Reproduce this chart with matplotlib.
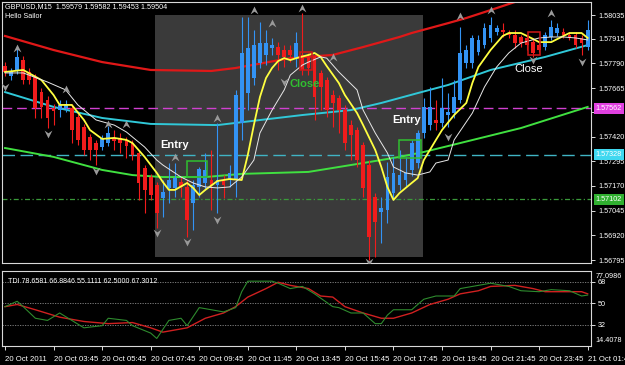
import matplotlib
matplotlib.use("Agg")
import matplotlib.pyplot as plt
import numpy as np
from matplotlib.path import Path
from matplotlib.patches import Rectangle

plt.rcParams['font.family'] = ['Liberation Sans', 'DejaVu Sans']

# GBPUSD M15 candles, 20 Oct 2011 01:45 -> 21 Oct 01:45
opens = [1.57777, 1.57726, 1.57757, 1.57807, 1.57747, 1.57721, 1.57645, 1.57605, 1.57564, 1.57554,
         1.57564, 1.57564, 1.57519, 1.57468, 1.57418, 1.57387, 1.57367, 1.57387, 1.57413, 1.57413,
         1.57403, 1.57387, 1.57337, 1.57261, 1.57215, 1.57175, 1.57109, 1.57160, 1.57160, 1.57190,
         1.57165, 1.57084, 1.57165, 1.57185, 1.57200, 1.57175, 1.57200, 1.57200, 1.57200, 1.57489,
         1.57640, 1.57716, 1.57792, 1.57833, 1.57868, 1.57873, 1.57858, 1.57858, 1.57817, 1.57833,
         1.57823, 1.57823, 1.57742, 1.57706, 1.57630, 1.57615, 1.57554, 1.57478, 1.57453, 1.57377,
         1.57276, 1.57114, 1.57038, 1.57048, 1.57134, 1.57175, 1.57200, 1.57251, 1.57286, 1.57438,
         1.57478, 1.57504, 1.57489, 1.57529, 1.57539, 1.57605, 1.57792, 1.57792, 1.57848, 1.57883,
         1.57919, 1.57949, 1.57959, 1.57944, 1.57934, 1.57924, 1.57919, 1.57898, 1.57883, 1.57873,
         1.57924, 1.57944, 1.57949, 1.57934, 1.57934, 1.57919, 1.57873]
highs = [1.57797, 1.57767, 1.57873, 1.57828, 1.57767, 1.57737, 1.57666, 1.57625, 1.57585, 1.57605,
         1.57605, 1.57585, 1.57534, 1.57484, 1.57433, 1.57403, 1.57428, 1.57473, 1.57453, 1.57438,
         1.57418, 1.57403, 1.57352, 1.57276, 1.57231, 1.57190, 1.57200, 1.57286, 1.57286, 1.57215,
         1.57200, 1.57200, 1.57266, 1.57337, 1.57352, 1.57489, 1.57225, 1.57276, 1.57656, 1.58025,
         1.58025, 1.57959, 1.57999, 1.57959, 1.57919, 1.57898, 1.57883, 1.57883, 1.57949, 1.58045,
         1.57843, 1.57833, 1.57757, 1.57721, 1.57656, 1.57630, 1.57580, 1.57504, 1.57468, 1.57392,
         1.57301, 1.57134, 1.57114, 1.57291, 1.57317, 1.57352, 1.57317, 1.57403, 1.57453, 1.57615,
         1.57671, 1.57605, 1.57716, 1.57640, 1.57706, 1.57974, 1.57883, 1.57934, 1.57934, 1.57994,
         1.58025, 1.57984, 1.57994, 1.57959, 1.57959, 1.57934, 1.57934, 1.57919, 1.57898, 1.57949,
         1.58010, 1.57994, 1.57969, 1.57949, 1.57949, 1.57934, 1.58010]
lows = [1.57726, 1.57706, 1.57737, 1.57686, 1.57686, 1.57514, 1.57514, 1.57463, 1.57478, 1.57519,
        1.57544, 1.57387, 1.57377, 1.57327, 1.57301, 1.57276, 1.57352, 1.57372, 1.57352, 1.57337,
        1.57311, 1.57301, 1.57099, 1.57033, 1.57099, 1.56957, 1.57013, 1.57084, 1.57114, 1.57114,
        1.56912, 1.56947, 1.57114, 1.57150, 1.57048, 1.57033, 1.57109, 1.57165, 1.57114, 1.57403,
        1.57554, 1.57681, 1.57767, 1.57782, 1.57833, 1.57757, 1.57772, 1.57797, 1.57772, 1.57731,
        1.57731, 1.57504, 1.57554, 1.57519, 1.57468, 1.57438, 1.57352, 1.57301, 1.57266, 1.57114,
        1.56795, 1.56811, 1.56881, 1.56983, 1.57099, 1.57150, 1.57170, 1.57220, 1.57261, 1.57413,
        1.57453, 1.57453, 1.57468, 1.57468, 1.57514, 1.57590, 1.57767, 1.57767, 1.57833, 1.57868,
        1.57898, 1.57934, 1.57924, 1.57919, 1.57868, 1.57873, 1.57858, 1.57823, 1.57848, 1.57858,
        1.57909, 1.57929, 1.57919, 1.57909, 1.57868, 1.57833, 1.57858]
closes = [1.57747, 1.57747, 1.57823, 1.57706, 1.57706, 1.57564, 1.57570, 1.57514, 1.57549, 1.57580,
          1.57585, 1.57453, 1.57403, 1.57352, 1.57352, 1.57352, 1.57413, 1.57438, 1.57397, 1.57387,
          1.57372, 1.57327, 1.57185, 1.57150, 1.57124, 1.57033, 1.57140, 1.57200, 1.57210, 1.57165,
          1.56998, 1.57175, 1.57256, 1.57251, 1.57175, 1.57200, 1.57175, 1.57236, 1.57630, 1.57843,
          1.57868, 1.57883, 1.57893, 1.57893, 1.57883, 1.57833, 1.57823, 1.57833, 1.57893, 1.57757,
          1.57767, 1.57620, 1.57671, 1.57554, 1.57590, 1.57554, 1.57387, 1.57428, 1.57301, 1.57160,
          1.56912, 1.56988, 1.57059, 1.57215, 1.57236, 1.57225, 1.57236, 1.57387, 1.57438, 1.57570,
          1.57570, 1.57489, 1.57564, 1.57544, 1.57620, 1.57843, 1.57858, 1.57919, 1.57909, 1.57969,
          1.57984, 1.57969, 1.57949, 1.57934, 1.57893, 1.57893, 1.57883, 1.57843, 1.57858, 1.57934,
          1.57974, 1.57969, 1.57934, 1.57919, 1.57883, 1.57893, 1.57959]

# indicator lines (bar index, value)
yellow_bar = [0, 3, 6, 8, 9, 11, 13, 14, 16, 18, 20, 21, 23, 25, 26, 27, 28, 30, 31, 32,
              33, 35, 37, 39, 40, 41, 42, 43, 44, 45, 46, 47, 48, 50, 51, 52, 53, 55, 56, 58,
              59, 61, 62, 63, 64, 65, 67, 68, 69, 71, 72, 74, 76, 77, 78, 80, 82, 83, 85, 87,
              88, 90, 92, 93, 95, 96]
yellow_val = [1.57747, 1.57757, 1.57706, 1.57630, 1.57580, 1.57580, 1.57504, 1.57453, 1.57408, 1.57413,
              1.57403, 1.57387, 1.57317, 1.57236, 1.57190, 1.57150, 1.57150, 1.57185, 1.57160, 1.57124,
              1.57150, 1.57195, 1.57205, 1.57200, 1.57327, 1.57478, 1.57620, 1.57716, 1.57767, 1.57802,
              1.57817, 1.57807, 1.57817, 1.57833, 1.57843, 1.57823, 1.57777, 1.57691, 1.57630, 1.57539,
              1.57478, 1.57352, 1.57266, 1.57165, 1.57099, 1.57134, 1.57185, 1.57210, 1.57301, 1.57403,
              1.57453, 1.57529, 1.57590, 1.57691, 1.57772, 1.57858, 1.57929, 1.57944, 1.57944, 1.57914,
              1.57898, 1.57898, 1.57929, 1.57944, 1.57944, 1.57919]
white_bar = [0, 3, 7, 10, 12, 15, 18, 20, 23, 25, 26, 29, 31, 33, 35, 37, 39, 41, 42, 44,
             46, 47, 49, 50, 52, 53, 55, 58, 59, 61, 63, 64, 66, 68, 70, 71, 73, 74, 77, 79,
             81, 83, 85, 88, 90, 92, 94, 96]
white_val = [1.57742, 1.57742, 1.57696, 1.57656, 1.57580, 1.57504, 1.57478, 1.57443, 1.57367, 1.57301,
             1.57276, 1.57215, 1.57185, 1.57165, 1.57160, 1.57165, 1.57215, 1.57301, 1.57438, 1.57554,
             1.57656, 1.57731, 1.57782, 1.57797, 1.57823, 1.57817, 1.57747, 1.57656, 1.57554, 1.57438,
             1.57337, 1.57266, 1.57236, 1.57225, 1.57241, 1.57286, 1.57301, 1.57403, 1.57539, 1.57671,
             1.57772, 1.57843, 1.57893, 1.57919, 1.57924, 1.57924, 1.57919, 1.57909]
red_bar = [0, 8, 16, 24, 34, 38, 47, 54, 59, 65, 67, 73, 76, 80, 84, 96]
red_val = [1.57929, 1.57858, 1.57797, 1.57757, 1.57752, 1.57767, 1.57817, 1.57833, 1.57873, 1.57924,
           1.57944, 1.57994, 1.58020, 1.58060, 1.58101, 1.58238]
cyan_bar = [0, 8, 16, 24, 35, 49, 57, 62, 68, 73, 80, 89, 96]
cyan_val = [1.57645, 1.57570, 1.57514, 1.57484, 1.57478, 1.57529, 1.57554, 1.57590, 1.57640, 1.57681,
            1.57757, 1.57823, 1.57883]
green_bar = [0, 8, 16, 21, 26, 33, 39, 50, 60, 65, 69, 73, 85, 96]
green_val = [1.57362, 1.57317, 1.57251, 1.57225, 1.57215, 1.57215, 1.57231, 1.57241, 1.57291, 1.57317,
             1.57342, 1.57372, 1.57463, 1.57570]

level_magenta = 1.57562
level_cyan = 1.57328
level_green = 1.57102

frac_up_bar = [2, 10, 17, 20, 28, 35, 41, 44, 49, 54, 75, 80, 90]
frac_up_val = [1.57868, 1.57661, 1.57484, 1.57484, 1.57317, 1.57514, 1.58060, 1.57994, 1.58070, 1.57823,
               1.58030, 1.58060, 1.58045]
frac_dn_bar = [0, 7, 15, 25, 30, 35, 46, 60, 73, 87, 95]
frac_dn_val = [1.57671, 1.57433, 1.57246, 1.56932, 1.56886, 1.56998, 1.57696, 1.56785, 1.57418, 1.57807,
               1.57797]

# TDI sub-window
tdi_sig_bar = [0, 2, 5, 9, 13, 17, 21, 24, 26, 30, 33, 36, 38, 40, 43, 45, 47, 50, 52, 54,
               56, 59, 62, 64, 67, 70, 73, 75, 78, 80, 84, 87, 89, 92, 95, 96]
tdi_sig_val = [47.3, 49.1, 44.7, 38.5, 34.9, 33.1, 34.0, 29.6, 26.0, 29.6, 37.6, 42.0, 47.3, 55.3, 62.4,
               67.7, 65.1, 62.4, 56.2, 55.3, 47.3, 42.0, 37.6, 37.6, 42.0, 49.1, 53.5, 58.0, 60.6, 64.2,
               65.1, 62.4, 59.8, 59.8, 59.8, 58.0]
tdi_rsi_bar = [0, 2, 3, 5, 7, 9, 11, 13, 16, 17, 20, 21, 24, 25, 27, 29, 30, 32, 34, 36,
               38, 39, 40, 41, 44, 45, 47, 49, 51, 54, 55, 57, 59, 61, 62, 63, 64, 67, 69, 71,
               74, 75, 78, 80, 83, 85, 88, 90, 93, 95, 96]
tdi_rsi_val = [47.3, 51.8, 47.3, 37.6, 35.8, 42.0, 35.8, 29.6, 31.4, 37.6, 35.8, 31.4, 25.2, 20.7, 35.8,
               37.6, 31.4, 46.5, 44.7, 42.9, 46.5, 59.8, 68.6, 68.6, 68.6, 66.9, 62.4, 64.2, 58.0, 47.3,
               46.5, 42.0, 42.0, 33.1, 33.1, 40.2, 44.7, 44.7, 53.5, 56.2, 56.2, 62.4, 65.1, 66.9, 64.2,
               60.6, 59.8, 61.5, 60.6, 56.2, 57.0]

price_ticks = [1.58035, 1.57915, 1.57790, 1.57665, 1.57545, 1.57420, 1.57295, 1.57170, 1.57045,
               1.56920, 1.56795]
time_labels = ['20 Oct 2011', '20 Oct 03:45', '20 Oct 05:45', '20 Oct 07:45', '20 Oct 09:45',
               '20 Oct 11:45', '20 Oct 13:45', '20 Oct 15:45', '20 Oct 17:45', '20 Oct 19:45',
               '20 Oct 21:45', '20 Oct 23:45', '21 Oct 01:45']

W, H = 625, 365
fig = plt.figure(figsize=(W / 100, H / 100), dpi=100, facecolor='black')
ax = fig.add_axes([2 / W, 1 - 263 / H, 589 / W, 261 / H], facecolor='black')
ax2 = fig.add_axes([2 / W, 1 - 346 / H, 589 / W, 75 / H], facecolor='black')

ax.set_xlim(-0.5, 96.55)
ax.set_ylim(1.56780, 1.58101)
ax2.set_xlim(-0.5, 96.55)
ax2.set_ylim(14.4078, 77.0986)

for a in (ax, ax2):
    for s in a.spines.values():
        s.set_color('#d8d8d8')
        s.set_linewidth(0.8)

# shaded session box
ax.add_patch(Rectangle((24.7, 1.56811), 44.2, 1.58035 - 1.56811, fc='#3a3a3a', ec='none', zorder=0))

# horizontal levels
ax.axhline(level_magenta, color='#d040d0', lw=1, dashes=(7, 3.5), zorder=1)
ax.axhline(level_cyan, color='#40b4c4', lw=1, dashes=(9, 4), zorder=1)
ax.axhline(level_green, color='#3a9a3a', lw=0.9, dashes=(4, 2, 1, 2), zorder=1)

# slow moving averages
ax.plot(red_bar, red_val, color='#e01818', lw=1.6, zorder=2)
ax.plot(cyan_bar, cyan_val, color='#30c8d8', lw=1.4, zorder=2)
ax.plot(green_bar, green_val, color='#40e040', lw=1.4, zorder=2)

# candles
x = np.arange(len(closes))
o = np.array(opens)
c = np.array(closes)
cols = np.where(c >= o, '#3393f4', '#f01c1c')
ax.vlines(x, lows, highs, colors=cols, lw=0.8, zorder=3)
ax.bar(x, np.maximum(np.abs(c - o), 0.00004), bottom=np.minimum(o, c), width=0.62,
       color=cols, lw=0, zorder=3)

# fast lines
ax.plot(yellow_bar, yellow_val, color='#ffff40', lw=1.3, zorder=4)
ax.plot(white_bar, white_val, color='#e8e8e8', lw=0.7, zorder=4)

# fractal arrows
up_mark = Path([(-1, -1), (0, 1), (1, -1), (0, -0.3), (-1, -1)],
               [Path.MOVETO, Path.LINETO, Path.LINETO, Path.LINETO, Path.CLOSEPOLY])
dn_mark = Path([(-1, 1), (0, -1), (1, 1), (0, 0.3), (-1, 1)],
               [Path.MOVETO, Path.LINETO, Path.LINETO, Path.LINETO, Path.CLOSEPOLY])
ax.scatter(frac_up_bar, frac_up_val, marker=up_mark, s=32, color='#9a9a9a', lw=0, zorder=5)
ax.scatter(frac_dn_bar, frac_dn_val, marker=dn_mark, s=32, color='#9a9a9a', lw=0, zorder=5)

# trade boxes
ax.add_patch(Rectangle((30.0, 1.57215), 3.3, 1.57296 - 1.57215, fc='none', ec='#30c030', lw=1.1, zorder=5))
ax.add_patch(Rectangle((64.9, 1.57311), 3.6, 1.57403 - 1.57311, fc='none', ec='#30c030', lw=1.1, zorder=5))
ax.add_patch(Rectangle((48.6, 1.57757), 2.0, 1.57848 - 1.57757, fc='none', ec='#d01818', lw=1.1, zorder=5))
ax.add_patch(Rectangle((86.2, 1.57833), 1.9, 1.57949 - 1.57833, fc='none', ec='#d01818', lw=1.1, zorder=5))

ax.text(28.0, 1.57377, 'Entry', color='white', fontsize=8, fontweight='bold', ha='center', va='center', zorder=6)
ax.text(66.1, 1.57504, 'Entry', color='white', fontsize=8, fontweight='bold', ha='center', va='center', zorder=6)
ax.text(49.4, 1.57686, 'Close', color='#30c030', fontsize=8, fontweight='bold', ha='center', va='center', zorder=6)
ax.text(86.3, 1.57762, 'Close', color='white', fontsize=8, ha='center', va='center', zorder=6)

# price scale
ax.tick_params(bottom=False, labelbottom=False)
ax.yaxis.tick_right()
ax.set_yticks(price_ticks)
ax.set_yticklabels(['%.5f' % p for p in price_ticks])
ax.tick_params(axis='y', colors='white', labelsize=5.2, length=3, width=0.6, pad=2)
for lvl, col in [(level_magenta, '#e040e0'), (level_cyan, '#40d8f0'), (level_green, '#30b030')]:
    ax.annotate('%.5f' % lvl, xy=(1, lvl), xycoords=('axes fraction', 'data'), xytext=(3.5, 0),
                textcoords='offset points', ha='left', va='center', fontsize=5.2, color='white',
                bbox=dict(boxstyle='square,pad=0.25', fc=col, ec='none'), annotation_clip=False, zorder=7)

fig.text(5 / W, 1 - 7 / H, 'GBPUSD,M15  1.59579 1.59582 1.59453 1.59504', color='white', fontsize=5.2, va='center')
fig.text(5 / W, 1 - 17 / H, 'Hello Sailor', color='white', fontsize=5.2, va='center')

# TDI panel
for lvl in (68, 50, 32):
    ax2.axhline(lvl, color='#8a8a8a', lw=0.6, ls=(0, (1.5, 1.5)))
ax2.plot(tdi_sig_bar, tdi_sig_val, color='#d02020', lw=1.0)
ax2.plot(tdi_rsi_bar, tdi_rsi_val, color='#2e8b2e', lw=0.8)
ax2.text(0.01, 0.86, 'TDI 78.6581 66.8846 55.1111 62.5000 67.3012', transform=ax2.transAxes,
         color='white', fontsize=5.1, va='center', ha='left')
ax2.yaxis.tick_right()
ax2.set_yticks([68, 50, 32])
ax2.set_yticklabels(['68', '50', '32'])
ax2.tick_params(axis='y', colors='white', labelsize=5.2, length=3, width=0.6, pad=2)
ax2.text(1.008, 0.92, '77.0986', transform=ax2.transAxes, color='white', fontsize=5.2, va='center')
ax2.text(1.008, 0.08, '14.4078', transform=ax2.transAxes, color='white', fontsize=5.2, va='center')

ax2.set_xticks(range(0, 97, 8))
ax2.set_xticklabels(time_labels)
ax2.tick_params(axis='x', colors='white', labelsize=5.6, length=3, width=0.6, pad=4)
for t in ax2.get_xticklabels():
    t.set_ha('left')

fig.savefig('out.png', dpi=100, facecolor='black')
